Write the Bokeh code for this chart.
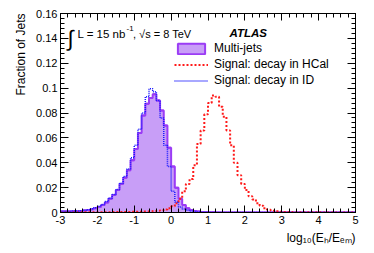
import numpy as np
from bokeh.plotting import figure
from bokeh.models import Range1d, FixedTicker, LinearAxis, Label, Legend, LegendItem, Title
from bokeh.embed import file_html
from bokeh.resources import INLINE

# ---- data -------------------------------------------------------------
bin_edges = np.round(np.linspace(-3.0, 5.0, 81), 2)

multijets = [
    0.0008, 0.0008, 0.0009, 0.0010, 0.0011, 0.0013, 0.0016, 0.0020, 0.0027, 0.0035,
    0.0045, 0.0060, 0.0080, 0.0110, 0.0140, 0.0180, 0.0230, 0.0280, 0.0340, 0.0420,
    0.0510, 0.0640, 0.0780, 0.0875, 0.0920, 0.0950, 0.0900, 0.0820, 0.0700, 0.0520,
    0.0370, 0.0200, 0.0110, 0.0060, 0.0035, 0.0020, 0.0012, 0.0008, 0.0005, 0.0003,
    0.0002, 0.0002, 0.0001, 0.0001, 0.0001, 0.0001, 0.0001, 0.0001, 0.0001, 0.0001,
    0.0001, 0.0001, 0.0001, 0.0001, 0.0001, 0.0, 0.0, 0.0, 0.0, 0.0,
    0.0, 0.0, 0.0, 0.0, 0.0, 0.0, 0.0, 0.0, 0.0, 0.0,
    0.0, 0.0, 0.0, 0.0, 0.0, 0.0, 0.0, 0.0, 0.0, 0.0,
]

signal_hcal = [
    0.0003, 0.0003, 0.0003, 0.0003, 0.0003, 0.0003, 0.0003, 0.0003, 0.0003, 0.0003,
    0.0003, 0.0003, 0.0003, 0.0003, 0.0004, 0.0004, 0.0004, 0.0005, 0.0005, 0.0006,
    0.0006, 0.0007, 0.0008, 0.0009, 0.0010, 0.0012, 0.0015, 0.0019, 0.0025, 0.0035,
    0.0050, 0.0075, 0.0110, 0.0170, 0.0230, 0.0270, 0.0380, 0.0550, 0.0660, 0.0790,
    0.0880, 0.0940, 0.0930, 0.0850, 0.0770, 0.0660, 0.0540, 0.0400, 0.0300, 0.0230,
    0.0180, 0.0130, 0.0105, 0.0075, 0.0055, 0.0035, 0.0022, 0.0015, 0.0010, 0.0007,
    0.0005, 0.0004, 0.0004, 0.0003, 0.0003, 0.0003, 0.0002, 0.0002, 0.0002, 0.0002,
    0.0002, 0.0001, 0.0001, 0.0001, 0.0001, 0.0001, 0.0001, 0.0001, 0.0001, 0.0001,
]

signal_id = [
    0.0010, 0.0010, 0.0011, 0.0012, 0.0013, 0.0015, 0.0018, 0.0023, 0.0030, 0.0038,
    0.0050, 0.0065, 0.0088, 0.0115, 0.0145, 0.0185, 0.0235, 0.0290, 0.0350, 0.0440,
    0.0540, 0.0670, 0.0800, 0.0930, 0.0995, 0.0970, 0.0900, 0.0760, 0.0540, 0.0370,
    0.0170, 0.0085, 0.0045, 0.0028, 0.0018, 0.0012, 0.0008, 0.0005, 0.0003, 0.0002,
    0.0001, 0.0001, 0.0001, 0.0001, 0.0001, 0.0, 0.0, 0.0, 0.0, 0.0,
    0.0, 0.0, 0.0, 0.0, 0.0, 0.0, 0.0, 0.0, 0.0, 0.0,
    0.0, 0.0, 0.0, 0.0, 0.0, 0.0, 0.0, 0.0, 0.0, 0.0,
    0.0, 0.0, 0.0, 0.0, 0.0, 0.0, 0.0, 0.0, 0.0, 0.0,
]

x_ticks = [-3, -2, -1, 0, 1, 2, 3, 4, 5]
x_tick_labels = ["-3", "-2", "-1", "0", "1", "2", "3", "4", "5"]
y_ticks = [0.0, 0.02, 0.04, 0.06, 0.08, 0.1, 0.12, 0.14, 0.16]
y_tick_labels = ["0", "0.02", "0.04", "0.06", "0.08", "0.1", "0.12", "0.14", "0.16"]
x_minor = [round(v, 1) for v in np.arange(-3.0, 5.01, 0.2)]
y_minor = [round(v, 3) for v in np.arange(0.0, 0.1601, 0.004)]

# ---- figure -----------------------------------------------------------
X0, X1, Y0, Y1 = -3.0, 5.0, 0.0, 0.16
W, H = 370, 250
FL, FR, FT, FB = 60, 355, 13, 212   # frame edges in px

p = figure(width=W, height=H, output_backend="svg", toolbar_location=None,
           x_range=Range1d(X0, X1), y_range=Range1d(Y0, Y1),
           min_border_left=FL, min_border_right=W - FR,
           min_border_top=FT, min_border_bottom=H - FB,
           x_axis_location=None, y_axis_location=None)
p.grid.visible = False
p.outline_line_color = "black"
p.outline_line_width = 1
p.background_fill_color = "white"
p.border_fill_color = "white"

FONT = "Liberation Sans"
XPX = (X1 - X0) / (FR - FL)   # data units per px
YPX = (Y1 - Y0) / (FB - FT)

def make_axis(ticks, minor, labels, tick_len, minor_len, show=True):
    ax = LinearAxis(ticker=FixedTicker(ticks=ticks, minor_ticks=minor))
    ax.major_tick_in = tick_len
    ax.major_tick_out = 0
    ax.minor_tick_in = minor_len
    ax.minor_tick_out = 0
    ax.axis_line_color = "black"
    ax.major_tick_line_color = "black"
    ax.minor_tick_line_color = "black"
    ax.major_label_text_font = FONT
    ax.major_label_text_color = "black"
    if show:
        ax.major_label_overrides = {t: l for t, l in zip(ticks, labels)}
        ax.major_label_text_font_size = "11px"
        ax.major_label_standoff = 3
    else:
        ax.major_label_overrides = {t: "" for t in ticks}
        ax.major_label_text_font_size = "1px"
        ax.major_label_standoff = 0
    return ax

p.add_layout(make_axis(x_ticks, x_minor, x_tick_labels, 7, 4), "below")
p.add_layout(make_axis(y_ticks, y_minor, y_tick_labels, 8, 4), "left")
p.add_layout(make_axis(x_ticks, x_minor, x_tick_labels, 7, 4, show=False), "above")
p.add_layout(make_axis(y_ticks, y_minor, y_tick_labels, 8, 4, show=False), "right")

# axis titles (outside the tick labels, aligned to the far end)
ytitle = Title(text="Fraction of Jets", align="right", text_font=FONT,
               text_font_size="12px", text_font_style="normal",
               text_color="black", standoff=12)
p.add_layout(ytitle, "left")
xtitle = Title(text="log\u2081\u2080(E\u2095/E\u2091\u2098)", align="right", text_font=FONT,
               text_font_size="12px", text_font_style="normal",
               text_color="black", standoff=4)
p.add_layout(xtitle, "below")

# ---- histograms -------------------------------------------------------
def ext(v):
    return list(v) + [v[-1]]

FILL = "#c89ef7"
EDGE = "#9b3cf5"
p.varea_step(x=bin_edges, y1=np.zeros(len(bin_edges)), y2=ext(multijets),
             step_mode="after", fill_color=FILL)
# bin tops drawn as flat boxes: gives the legend its outlined, filled swatch
legend_box = p.quad(left=bin_edges[:-1], right=bin_edges[1:], top=multijets,
                    bottom=multijets, fill_color=FILL, line_color=EDGE, line_width=2)
p.step(x=bin_edges, y=ext(multijets), mode="after", line_color=EDGE, line_width=2)
r_hcal = p.step(x=bin_edges, y=ext(signal_hcal), mode="after", line_color="#ff1a1a",
                line_width=2, line_dash="2 2")
r_id = p.step(x=bin_edges, y=ext(signal_id), mode="after", line_color="#1a1aff",
              line_width=1.5, line_dash="1 1")

# ---- texts inside the frame -------------------------------------------
def dx(px):
    return X0 + (px - FL) * XPX

def dy(py):
    return Y0 + (FB - py) * YPX

def lab(text, px, py, size, **kw):
    kw.setdefault("text_font", FONT)
    p.add_layout(Label(x=dx(px), y=dy(py), text=text, text_font_size=f"{size}px",
                       text_baseline="alphabetic", text_color="black", **kw))

# luminosity text
lab("\u222b", 67, 38, 22)
lab("L = 15 nb", 77, 33, 11.5)
lab("-1", 126, 28, 8)
lab(", \u221as = 8 TeV", 132.5, 33, 11)

# ATLAS
lab("ATLAS", 229, 32, 11.5, text_font_style="bold italic")

legend = Legend(items=[
    LegendItem(label="Multi-jets", renderers=[legend_box]),
    LegendItem(label="Signal: decay in HCal", renderers=[r_hcal]),
    LegendItem(label="Signal: decay in ID", renderers=[r_id]),
], location=(174 - FL, 125))
legend.glyph_width = 34
legend.glyph_height = 13
legend.label_height = 13
legend.spacing = 2
legend.padding = 0
legend.margin = 0
legend.label_standoff = 6
legend.label_text_font = FONT
legend.label_text_font_size = "12px"
legend.label_text_color = "black"
legend.border_line_color = None
legend.background_fill_alpha = 0
p.add_layout(legend)

open("out.html", "w").write(file_html(p, INLINE))
